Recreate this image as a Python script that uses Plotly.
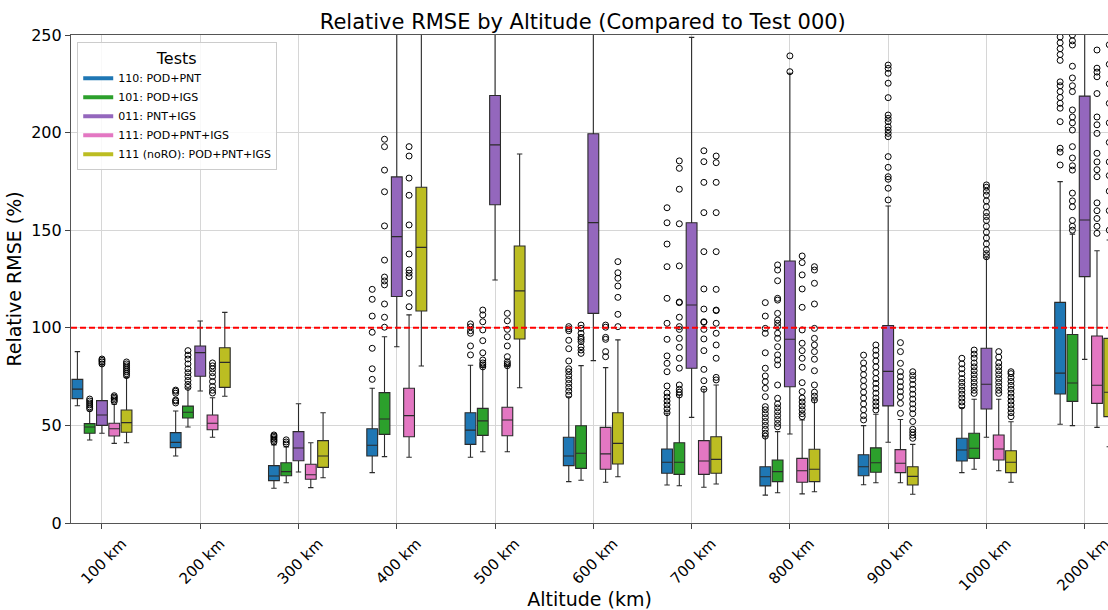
import plotly.graph_objects as go

# ---------------- data ----------------
altitudes = ["100 km", "200 km", "300 km", "400 km", "500 km", "600 km",
             "700 km", "800 km", "900 km", "1000 km", "2000 km"]
test_names = ["110: POD+PNT", "101: POD+IGS", "011: PNT+IGS",
              "111: POD+PNT+IGS", "111 (noRO): POD+PNT+IGS"]
ref_line_value = 100

# test 110
t110_q1 = [63.7, 38.6, 21.7, 34.3, 40.3, 29.4, 25.5, 19.0, 24.2, 31.8, 66.1]
t110_med = [68.6, 41.3, 24.1, 39.8, 47.6, 34.3, 31.1, 23.7, 28.8, 37.4, 76.8]
t110_q3 = [73.6, 46.3, 29.4, 48.3, 56.5, 43.9, 37.9, 28.8, 35.0, 43.4, 113.0]
t110_lo = [60.1, 34.3, 17.8, 25.8, 33.7, 21.2, 19.5, 14.3, 19.6, 25.8, 50.6]
t110_hi = [87.8, 57.4, 40.0, 69.0, 80.8, 64.7, 56.2, 44.2, 49.9, 59.1, 174.9]
t110_out = [
    [],
    [61.5, 62.5, 63.0, 66.5, 67.5, 68.1],
    [41.5, 42.3, 43.0, 43.8, 44.5, 45.1],
    [73.6, 79.0, 89.5, 97.7, 106.0, 114.6, 119.7],
    [86.1, 90.7, 97.2, 98.5, 100.5, 102.0],
    [65.5, 67.5, 69.5, 71.5, 73.5, 75.5, 77.5, 79.0, 83.0, 89.3, 93.6, 98.5, 99.5, 100.6],
    [56.5, 58.5, 60.5, 62.5, 64.5, 66.6, 70.2, 77.5, 81.8, 85.6, 94.1, 102.3, 115.1, 131.3, 142.9, 153.8, 161.5],
    [44.5, 46.0, 48.0, 50.0, 52.0, 54.0, 56.0, 58.0, 59.6, 64.7, 69.0, 72.4, 75.3, 79.3, 87.2, 97.2, 99.7, 106.0, 112.9],
    [52.8, 55.0, 58.0, 61.0, 64.0, 67.0, 70.0, 73.0, 76.0, 79.0, 82.0, 86.0],
    [60.0, 62.0, 64.0, 66.0, 68.0, 70.0, 72.0, 74.0, 76.5, 79.0, 81.5, 84.4],
    [183.4, 190.0, 192.0, 205.6, 212.5, 215.0, 218.0, 221.0, 224.0, 226.0, 237.0, 240.0, 243.0, 246.0, 249.0],
]

# test 101
t101_q1 = [46.0, 53.8, 24.2, 45.4, 44.9, 28.0, 24.9, 21.2, 26.0, 33.1, 62.3]
t101_med = [49.2, 56.7, 26.3, 53.3, 52.3, 35.7, 31.1, 26.3, 30.9, 38.3, 71.7]
t101_q3 = [50.9, 59.9, 30.9, 66.8, 58.7, 49.8, 41.1, 32.3, 38.5, 46.0, 96.6]
t101_lo = [42.5, 49.2, 20.6, 34.0, 36.5, 21.9, 19.1, 15.5, 20.6, 27.5, 49.9]
t101_hi = [57.5, 69.0, 39.0, 95.4, 80.0, 80.6, 65.6, 46.8, 55.7, 63.4, 148.0]
t101_out = [
    [58.5, 59.5, 60.5, 61.5, 62.5, 63.5],
    [69.5, 71.0, 73.0, 75.0, 77.0, 79.0, 81.5, 84.0, 86.0, 88.3],
    [40.5, 41.5, 42.6],
    [100.3, 105.4, 112.2, 122.0, 124.0, 126.0, 134.7, 152.2, 169.7, 180.8, 192.8, 196.6],
    [80.0, 81.0, 82.0, 83.5, 87.2, 93.4, 98.9, 103.1, 106.6, 109.1],
    [86.9, 88.6, 90.3, 92.9, 94.1, 95.1, 97.2, 99.7, 101.4],
    [65.6, 67.0, 68.5, 70.7, 79.3, 84.4, 90.0, 94.6, 99.2, 100.6, 105.4, 112.9, 113.2, 131.7, 153.3, 171.0, 181.7, 185.5],
    [49.3, 51.0, 53.0, 55.0, 57.0, 59.0, 61.0, 63.9, 70.7, 81.0, 83.5, 86.1, 90.3, 94.6, 97.2, 100.6, 102.3, 104.0, 107.4, 114.2, 115.1, 124.1, 129.6, 132.2],
    [57.9, 60.0, 62.0, 64.0, 66.5, 69.0, 71.5, 74.0, 77.0, 80.0, 83.0, 86.0, 88.5, 91.2],
    [66.4, 68.0, 70.0, 72.0, 74.0, 76.0, 78.0, 80.0, 82.0, 84.5, 86.5, 88.6],
    [150.0, 152.0, 155.0, 162.0, 165.0, 169.0, 180.8, 183.0, 187.0, 192.8, 201.3, 205.0, 208.0, 211.6, 221.0, 224.0, 228.0, 234.0, 244.9, 247.0, 250.0],
]

# test 011
t011_q1 = [50.0, 75.2, 31.9, 116.0, 163.0, 107.4, 79.3, 69.8, 60.0, 58.4, 126.2]
t011_med = [55.3, 87.3, 38.4, 146.7, 193.7, 153.9, 111.7, 94.1, 77.7, 71.1, 155.2]
t011_q3 = [62.7, 90.7, 46.8, 177.3, 219.0, 199.4, 153.8, 134.2, 101.2, 89.5, 218.7]
t011_lo = [46.0, 67.6, 26.1, 90.3, 124.5, 83.2, 54.1, 45.6, 41.4, 43.9, 83.8]
t011_hi = [81.0, 103.5, 61.1, 290.0, 300.0, 290.0, 248.8, 230.4, 162.4, 135.9, 320.0]
t011_out = [
    [81.5, 82.5, 83.3, 84.0],
    [], [], [], [], [], [],
    [231.2, 239.3],
    [165.5, 171.5, 176.1, 177.4, 182.2, 187.7, 197.9, 199.6, 201.3, 203.0, 205.6, 207.3, 209.0, 217.9, 225.3, 230.4, 232.9, 234.6],
    [136.4, 138.0, 140.0, 143.0, 146.0, 149.0, 152.0, 155.0, 157.0, 159.0, 162.0, 165.0, 168.0, 170.0, 172.0, 173.2],
    [],
]

# test 111
t111_q1 = [44.6, 47.8, 22.4, 44.2, 44.7, 27.5, 24.9, 20.9, 25.8, 32.3, 61.3]
t111_med = [48.3, 51.1, 24.7, 55.0, 52.8, 35.4, 31.8, 26.8, 30.6, 37.9, 70.6]
t111_q3 = [51.1, 55.3, 30.1, 69.0, 59.3, 49.0, 42.2, 33.1, 37.6, 45.1, 95.8]
t111_lo = [40.8, 43.9, 18.1, 33.7, 36.5, 20.9, 18.3, 14.9, 20.6, 26.8, 49.0]
t111_hi = [60.8, 64.2, 41.1, 106.6, 80.6, 79.6, 68.5, 52.8, 53.0, 63.4, 139.5]
t111_out = [
    [62.2, 63.0, 63.8, 64.5, 65.2],
    [66.6, 68.0, 70.0, 72.5, 75.0, 77.0, 79.0, 80.5, 82.0],
    [],
    [110.8, 117.7, 126.2, 128.0, 129.6, 137.8, 152.7, 167.9, 176.7, 188.0, 192.8],
    [80.6, 81.5, 82.6, 85.2, 90.7, 95.4, 99.2, 103.6, 107.4],
    [85.2, 87.8, 94.1, 95.1, 100.3, 101.4],
    [68.5, 72.9, 78.7, 88.3, 94.3, 99.2, 102.8, 103.1, 109.6, 119.9, 139.0, 159.0, 174.5, 185.1, 190.7],
    [54.5, 56.0, 58.0, 60.0, 62.0, 64.0, 67.3, 71.9, 79.8, 84.4, 88.3, 92.1, 98.9, 110.5, 119.9, 127.1, 133.4, 136.8],
    [56.2, 61.3, 64.7, 67.3, 69.8, 72.4, 75.0, 77.5, 81.8, 87.8, 92.4],
    [66.4, 68.0, 70.0, 72.0, 74.0, 76.0, 78.0, 80.0, 82.0, 85.0, 87.8],
    [148.4, 152.0, 156.0, 160.0, 164.0, 177.4, 181.0, 185.0, 189.4, 199.6, 204.0, 208.0, 220.0, 228.6, 231.0, 233.0, 242.3],
]

# test 111 (noRO)
t111n_q1 = [46.5, 69.5, 28.5, 108.6, 94.3, 30.2, 25.5, 21.2, 19.5, 25.8, 54.5]
t111n_med = [51.4, 82.3, 34.3, 141.2, 118.9, 40.8, 32.6, 27.5, 23.9, 31.1, 67.0]
t111n_q3 = [57.9, 89.8, 42.2, 172.0, 141.9, 56.5, 44.2, 37.8, 28.8, 37.0, 94.6]
t111n_lo = [41.1, 64.9, 23.2, 80.4, 69.3, 23.7, 20.0, 16.0, 14.7, 20.9, 39.1]
t111n_hi = [74.6, 107.9, 56.5, 260.0, 189.0, 93.8, 70.7, 63.0, 40.3, 51.9, 145.0]
t111n_out = [
    [75.5, 76.5, 77.5, 78.5, 79.5, 80.5, 81.5, 82.5],
    [], [], [], [],
    [100.6, 106.9, 115.6, 121.4, 125.4, 128.2, 133.9],
    [73.3, 74.6, 84.4, 91.2, 97.2, 102.3, 108.8, 109.1, 119.7, 139.0, 159.0, 174.5, 184.6, 188.0],
    [63.0, 65.0, 67.0, 70.7, 78.0, 83.9, 87.8, 91.2, 94.6, 99.7, 112.2, 122.8, 129.6, 131.3],
    [43.4, 45.0, 46.5, 48.0, 52.0, 56.0, 58.5, 61.0, 63.5, 66.0, 68.5, 71.0, 73.5, 75.5, 77.5],
    [54.5, 56.5, 58.5, 60.5, 62.5, 64.5, 66.5, 68.5, 70.5, 72.5, 74.5, 76.5, 77.5],
    [150.0, 160.0, 170.0, 178.0, 185.0, 195.0, 205.0, 215.0, 225.0, 235.0, 245.0],
]

# ---------------- style ----------------
colors = ["#1f77b4", "#2ca02c", "#9467bd", "#e377c2", "#bcbd22"]
offsets = [-0.25, -0.125, 0.0, 0.125, 0.25]
box_width = 0.11
FONT = "DejaVu Sans"

stats = [
    (t110_q1, t110_med, t110_q3, t110_lo, t110_hi, t110_out),
    (t101_q1, t101_med, t101_q3, t101_lo, t101_hi, t101_out),
    (t011_q1, t011_med, t011_q3, t011_lo, t011_hi, t011_out),
    (t111_q1, t111_med, t111_q3, t111_lo, t111_hi, t111_out),
    (t111n_q1, t111n_med, t111n_q3, t111n_lo, t111n_hi, t111n_out),
]

fig = go.Figure()
base = list(range(len(altitudes)))

for j, (q1, med, q3, lo, hi, outs) in enumerate(stats):
    xs = [b + offsets[j] for b in base]
    fig.add_trace(go.Box(
        x=xs, q1=q1, median=med, q3=q3, lowerfence=lo, upperfence=hi,
        width=box_width, whiskerwidth=0.5, boxpoints=False,
        fillcolor=colors[j], line=dict(color="#2b2b2b", width=1.1),
        showlegend=False, name=test_names[j],
    ))
    ox, oy = [], []
    for b, vals in zip(base, outs):
        for v in vals:
            ox.append(b + offsets[j])
            oy.append(v)
    fig.add_trace(go.Scatter(
        x=ox, y=oy, mode="markers", showlegend=False,
        marker=dict(symbol="circle-open", size=6, color="black",
                    line=dict(width=1, color="black")),
    ))

for j, name in enumerate(test_names):
    fig.add_trace(go.Scatter(
        x=[None], y=[None], mode="lines", name=name,
        line=dict(color=colors[j], width=4),
    ))

fig.add_shape(type="line", xref="paper", x0=0, x1=1, y0=ref_line_value,
              y1=ref_line_value, line=dict(color="red", width=2, dash="6px,3px"))

fig.update_layout(
    width=1108, height=610,
    margin=dict(l=71, r=0, t=35, b=87),
    paper_bgcolor="white", plot_bgcolor="white",
    font=dict(family=FONT, color="black"),
    title=dict(text="Relative RMSE by Altitude (Compared to Test 000)",
               x=0.526, xanchor="center", y=0.964, yanchor="middle",
               font=dict(size=21, family=FONT)),
    legend=dict(
        title=dict(text="Tests", side="top center", font=dict(size=16, family=FONT)),
        x=0.006, y=0.986, xanchor="left", yanchor="top",
        bgcolor="rgba(255,255,255,0.85)", bordercolor="#cccccc", borderwidth=1,
        font=dict(size=11, family=FONT), itemwidth=30, tracegroupgap=0,
    ),
    xaxis=dict(
        range=[-0.315, 10.237], tickmode="array", tickvals=base, ticktext=altitudes,
        tickangle=-45, ticks="outside", ticklen=5, tickcolor="#444",
        tickfont=dict(size=15, family=FONT), ticklabelshift=20,
        ticklabeloverflow="allow", automargin=False,
        showgrid=True, gridcolor="#d6d6d6", gridwidth=1, zeroline=False,
        showline=True, linecolor="#555", linewidth=1.2, mirror=True,
        title=dict(text="Altitude (km)", font=dict(size=19, family=FONT), standoff=8),
    ),
    yaxis=dict(
        range=[0, 250], tickmode="array", tickvals=[0, 50, 100, 150, 200, 250],
        ticks="outside", ticklen=5, tickcolor="#444", automargin=False,
        tickfont=dict(size=16, family=FONT),
        showgrid=True, gridcolor="#d6d6d6", gridwidth=1, zeroline=False,
        showline=True, linecolor="#555", linewidth=1.2,
        title=dict(text="Relative RMSE (%)", font=dict(size=19, family=FONT), standoff=4),
    ),
)

fig.write_html("out.html")
